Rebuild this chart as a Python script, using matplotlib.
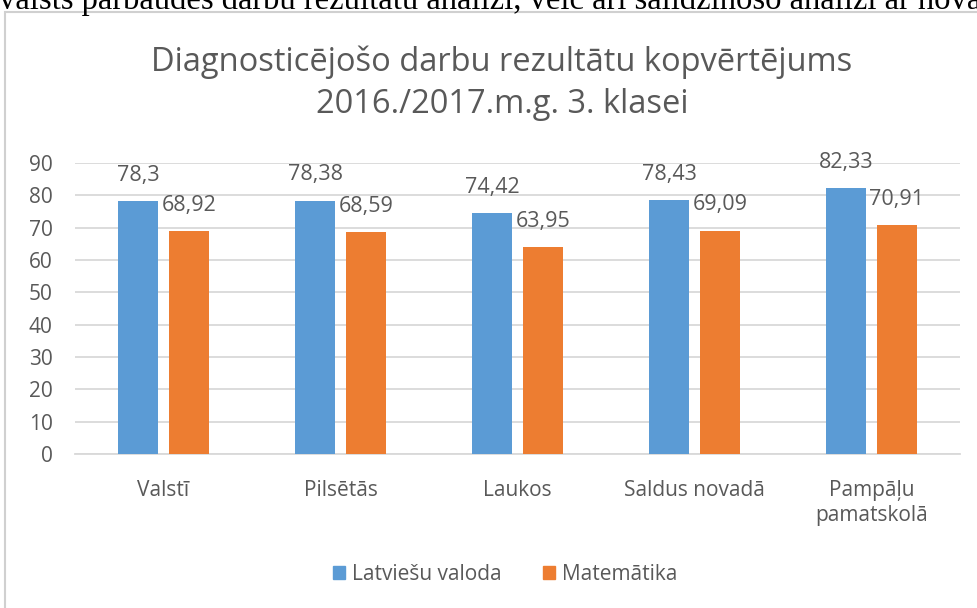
import matplotlib
matplotlib.use("Agg")
import matplotlib.pyplot as plt
import numpy as np
from matplotlib.patches import Rectangle, Patch

categories = ["Valstī", "Pilsētās", "Laukos", "Saldus novadā", "Pampāļu\npamatskolā"]
latviesu = [78.3, 78.38, 74.42, 78.43, 82.33]
matematika = [68.92, 68.59, 63.95, 69.09, 70.91]
latviesu_labels = ["78,3", "78,38", "74,42", "78,43", "82,33"]
matematika_labels = ["68,92", "68,59", "63,95", "69,09", "70,91"]
series_names = ["Latviešu valoda", "Matemātika"]
title = "Diagnosticējošo darbu rezultātu kopvērtējums\n2016./2017.m.g. 3. klasei"
top_text = "valsts pārbaudes darbu rezultātu analīzi, veic arī salīdzinošo analīzi ar novadu"

BLUE = "#5B9BD5"
ORANGE = "#ED7D31"
GRID = "#D9D9D9"
TXT = "#595959"
FONT = ["Open Sans", "DejaVu Sans"]

W, H = 978, 608
fig = plt.figure(figsize=(W / 100, H / 100), dpi=100)
fig.patch.set_facecolor("white")

# surrounding text line (partly cut off) and chart frame
fig.text(-1 / W, 1 - 9 / H, top_text, family=["Liberation Serif"], fontsize=23.5,
         color="black", va="baseline", ha="left")
fig.patches.append(Rectangle((5 / W, -0.05), 1.2, 1 - 12 / H + 0.05, transform=fig.transFigure,
                             fill=False, edgecolor="#D0D0D0", linewidth=1.5))

ax = fig.add_axes([75 / W, 1 - 454 / H, (960 - 75) / W, (454 - 163) / H])
x = np.arange(len(categories))
bw = 0.226
off = 0.144
ax.bar(x - off, latviesu, bw, color=BLUE, zorder=3, label=series_names[0])
ax.bar(x + off, matematika, bw, color=ORANGE, zorder=3, label=series_names[1])

for xi, v, lab in zip(x, latviesu, latviesu_labels):
    ax.annotate(lab, (xi - off, v), xytext=(0, 18.5), textcoords="offset points",
                ha="center", va="center", fontsize=15.5, color=TXT, family=FONT)
for xi, v, lab in zip(x, matematika, matematika_labels):
    ax.annotate(lab, (xi + off, v), xytext=(0, 18.5), textcoords="offset points",
                ha="center", va="center", fontsize=15.5, color=TXT, family=FONT)

ax.set_xlim(-0.5, len(categories) - 0.5)
ax.set_ylim(0, 90)
ax.set_yticks(range(0, 91, 10))
ax.yaxis.grid(True, color=GRID, linewidth=1.3, zorder=0)
ax.set_axisbelow(True)
for s in ["top", "right", "left"]:
    ax.spines[s].set_visible(False)
ax.spines["bottom"].set_color(GRID)
ax.spines["bottom"].set_linewidth(1.3)
ax.set_xticks(x)
ax.set_xticklabels(categories, fontsize=15, color=TXT, family=FONT, linespacing=1.25)
ax.tick_params(axis="x", length=0, pad=19)
ax.tick_params(axis="y", length=0, pad=16, labelsize=15, labelcolor=TXT)
for t in ax.get_yticklabels():
    t.set_family(FONT)

fig.text(502 / W, 1 - 83 / H, title, ha="center", va="center", fontsize=23.5,
         color=TXT, family=FONT, linespacing=1.35)

handles = [Patch(color=BLUE), Patch(color=ORANGE)]
fig.legend(handles, series_names, loc="center", bbox_to_anchor=(505 / W, 1 - 574 / H),
           ncol=2, frameon=False, prop={"family": FONT, "size": 15},
           labelcolor=TXT, handlelength=0.6, handleheight=0.6, handletextpad=0.3,
           columnspacing=2.0)

fig.savefig("out.png", dpi=100, facecolor="white")
